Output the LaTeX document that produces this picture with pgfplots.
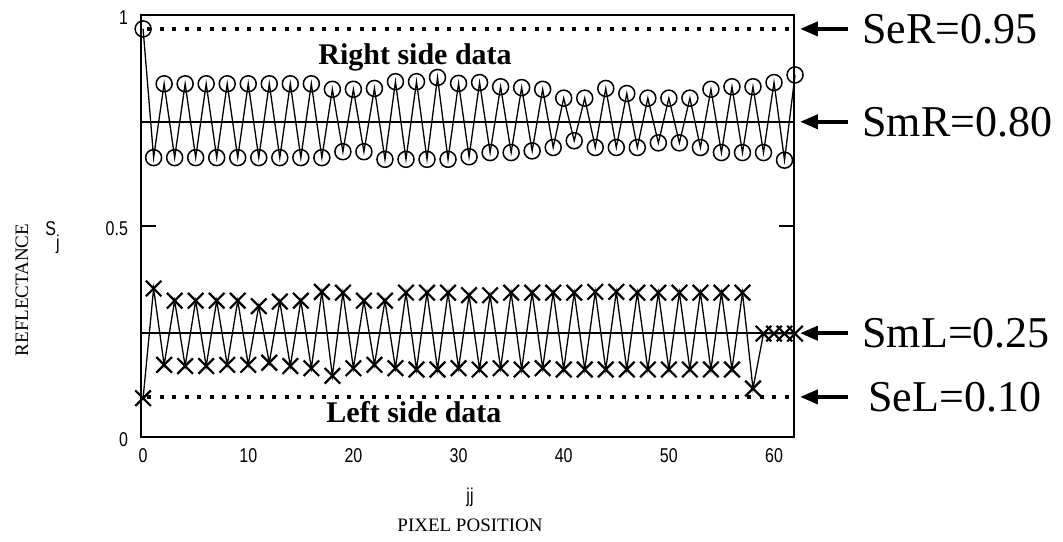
\documentclass[border=0pt]{standalone}
\usepackage{fontspec}
\setmainfont{Liberation Serif}
\newfontfamily\sansf[FakeStretch=0.8]{Liberation Sans}
\usepackage{pgfplots}
\pgfplotsset{compat=1.18}
\usepackage{pgfplotstable}
\usetikzlibrary{arrows.meta}

\pgfplotstableread{
j v
0 0.967
1 0.662
2 0.837
3 0.662
4 0.837
5 0.662
6 0.837
7 0.662
8 0.837
9 0.662
10 0.837
11 0.662
12 0.837
13 0.662
14 0.837
15 0.662
16 0.837
17 0.662
18 0.824
19 0.676
20 0.824
21 0.676
22 0.826
23 0.658
24 0.842
25 0.658
26 0.842
27 0.658
28 0.852
29 0.658
30 0.838
31 0.664
32 0.840
33 0.674
34 0.830
35 0.674
36 0.828
37 0.678
38 0.824
39 0.686
40 0.803
41 0.702
42 0.803
43 0.686
44 0.826
45 0.686
46 0.814
47 0.686
48 0.803
49 0.697
50 0.803
51 0.697
52 0.803
53 0.686
54 0.824
55 0.674
56 0.830
57 0.674
58 0.830
59 0.674
60 0.840
61 0.656
62 0.858
}\dataR

\pgfplotstableread{
j v
0 0.092
1 0.352
2 0.171
3 0.323
4 0.168
5 0.323
6 0.168
7 0.323
8 0.171
9 0.323
10 0.171
11 0.310
12 0.176
13 0.321
14 0.168
15 0.323
16 0.163
17 0.344
18 0.145
19 0.342
20 0.163
21 0.323
22 0.171
23 0.323
24 0.163
25 0.342
26 0.160
27 0.342
28 0.160
29 0.342
30 0.163
31 0.336
32 0.160
33 0.336
34 0.163
35 0.342
36 0.160
37 0.342
38 0.163
39 0.342
40 0.160
41 0.342
42 0.160
43 0.344
44 0.160
45 0.344
46 0.160
47 0.342
48 0.160
49 0.342
50 0.160
51 0.342
52 0.160
53 0.342
54 0.160
55 0.342
56 0.160
57 0.342
58 0.115
59 0.245
60 0.245
61 0.245
62 0.245
}\dataL

\begin{document}
\begin{tikzpicture}
\useasboundingbox (-70.5pt,-52pt) rectangle (461pt,218.5pt);
\begin{axis}[
  at={(0,0)}, anchor=south west,
  scale only axis, width=326.5pt, height=211pt,
  xmin=-0.2, xmax=61.9, ymin=0, ymax=1,
  xtick={0,10,...,60},
  ytick={0,0.5,1}, yticklabels={0,0.5,1},
  xtick style={draw=none},
  ytick style={line width=0.75pt, black},
  tick align=inside, ytick pos=both, xtick pos=bottom,
  major tick length=7.5pt,
  axis line style={line width=0.75pt},
  clip=false,
  ticklabel style={font=\sansf\fontsize{10}{12}\selectfont},
  /pgf/number format/assume math mode=true,
  xticklabel style={yshift=-2pt},
  yticklabel style={xshift=-3pt, yshift=-1.5pt},
]
% reference lines
\addplot[black, line width=2pt, dash pattern=on 2pt off 4.25pt] coordinates {(0.4,0.967) (61.9,0.967)};
\addplot[black, line width=2pt, dash pattern=on 2pt off 4.25pt] coordinates {(0.4,0.095) (61.9,0.095)};
\addplot[black, line width=0.75pt] coordinates {(-0.2,0.747) (61.9,0.747)};
\addplot[black, line width=0.75pt] coordinates {(-0.2,0.246) (61.9,0.246)};
% data
\addplot[black, line width=0.65pt, mark=o, mark size=4pt, mark options={line width=0.75pt, solid}] table[x=j, y=v] {\dataR};
\addplot[black, line width=0.65pt, mark=x, mark size=5.5pt, mark options={line width=1.1pt, solid}] table[x=j, y=v] {\dataL};
% annotations
\node[font=\bfseries\fontsize{15}{18}\selectfont] at (axis cs:25.86,0.90) {Right side data};
\node[font=\bfseries\fontsize{15}{18}\selectfont] at (axis cs:25.76,0.059) {Left side data};
\draw[line width=2pt, -{Triangle[length=9pt,width=7pt]}] (axis cs:67.04,0.967) -- (axis cs:62.47,0.967);
\draw[line width=2pt, -{Triangle[length=9pt,width=7pt]}] (axis cs:67.04,0.747) -- (axis cs:62.47,0.747);
\draw[line width=2pt, -{Triangle[length=9pt,width=7pt]}] (axis cs:67.04,0.246) -- (axis cs:62.47,0.246);
\draw[line width=2pt, -{Triangle[length=9pt,width=7pt]}] (axis cs:67.04,0.095) -- (axis cs:62.47,0.095);
\node[anchor=west, inner sep=0pt, font=\fontsize{22}{26}\selectfont] at (axis cs:68.37,0.967) {SeR=0.95};
\node[anchor=west, inner sep=0pt, font=\fontsize{22}{26}\selectfont] at (axis cs:68.37,0.747) {SmR=0.80};
\node[anchor=west, inner sep=0pt, font=\fontsize{22}{26}\selectfont] at (axis cs:68.37,0.246) {SmL=0.25};
\node[anchor=west, inner sep=0pt, font=\fontsize{22}{26}\selectfont] at (axis cs:68.94,0.095) {SeL=0.10};
\end{axis}
\node[rotate=90, font=\fontsize{9.5}{11}\selectfont] at (-59.5pt,73.5pt) {REFLECTANCE};
\node[anchor=base west, inner sep=0pt, font=\sansf\fontsize{10}{12}\selectfont] at (-48pt,101pt) {S\raisebox{-7pt}{j}};
\node[font=\sansf\fontsize{10}{12}\selectfont] at (164.5pt,-30pt) {jj};
\node[font=\fontsize{9.5}{11}\selectfont] at (164.5pt,-44pt) {PIXEL POSITION};
\end{tikzpicture}
\end{document}
